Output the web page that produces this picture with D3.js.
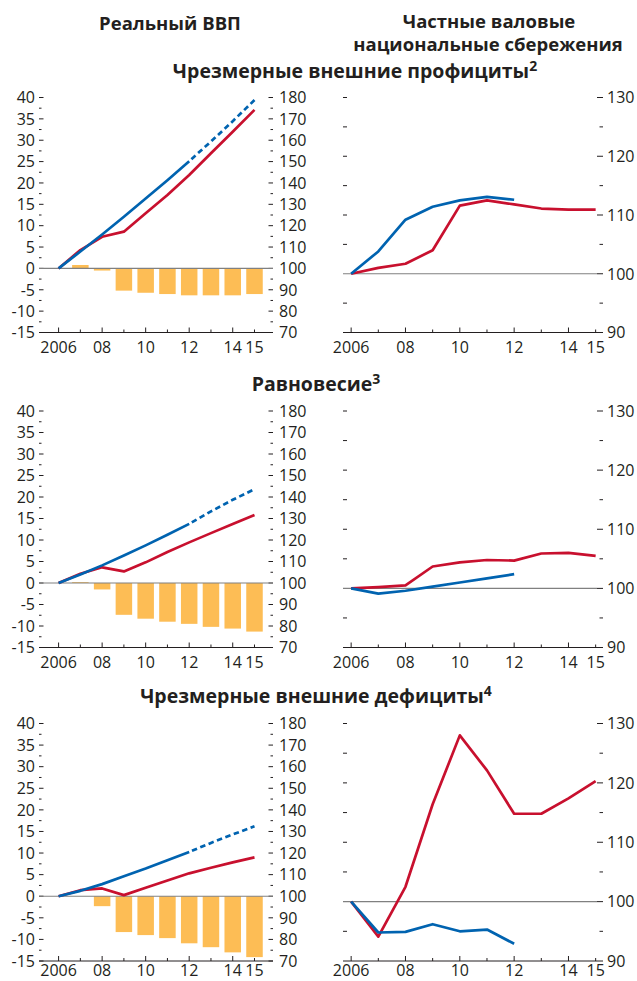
<!DOCTYPE html>
<html>
<head>
<meta charset="utf-8">
<script src="https://cdn.jsdelivr.net/npm/d3@7"></script>
<style>
  body { margin: 0; background: #fff; }
  svg { display: block; font-family: 'Open Sans', 'Noto Sans', sans-serif; }
</style>
</head>
<body>
<svg id="chart" width="637" height="981"></svg>
<script>
// --- data ---
const years = [2006, 2007, 2008, 2009, 2010, 2011, 2012, 2013, 2014, 2015];
const yearLabels = { 2006: '2006', 2008: '08', 2010: '10', 2012: '12', 2014: '14', 2015: '15' };
const forecastFrom = 2012;

// Real GDP: bars = percent (left axis), lines = index 2006 = 100 (right axis)
const surplusBars = [0, 0.8, -0.5, -5.2, -5.7, -6.0, -6.3, -6.3, -6.3, -6.0];
const surplusRedGdp = [100, 108.6, 114.8, 117.2, 125.8, 134.4, 143.7, 153.9, 164.0, 174.2];
const surplusBlueGdp = [100, 107.9, 115.9, 124.2, 132.7, 141.3, 150.2, 159.4, 168.9, 178.8];

const balanceBars = [0, 0.2, -1.5, -7.4, -8.3, -9.0, -9.5, -10.2, -10.6, -11.3];
const balanceRedGdp = [100, 104.3, 107.3, 105.4, 109.6, 114.4, 118.9, 123.2, 127.4, 131.6];
const balanceBlueGdp = [100, 103.9, 108.2, 112.8, 117.5, 122.4, 127.5, 133.3, 138.7, 143.6];

const deficitBars = [0, 0, -2.3, -8.3, -9.0, -9.7, -10.9, -11.8, -13.0, -14.1];
const deficitRedGdp = [100, 102.8, 103.6, 100.5, 103.9, 107.3, 110.6, 113.2, 115.7, 118.0];
const deficitBlueGdp = [100, 102.5, 105.6, 109.3, 112.8, 116.7, 120.5, 124.7, 128.6, 132.4];

// Private gross national savings, index 2006 = 100
const surplusRedSav = [100, 101.0, 101.7, 104.0, 111.6, 112.5, 111.8, 111.1, 110.9, 110.9];
const surplusBlueSav = [100, 103.8, 109.2, 111.4, 112.5, 113.1, 112.6];
const balanceRedSav = [100, 100.2, 100.5, 103.7, 104.4, 104.8, 104.7, 105.9, 106.0, 105.5];
const balanceBlueSav = [100, 99.1, 99.6, 100.3, 101.0, 101.7, 102.4];
const deficitRedSav = [100, 94.1, 102.5, 116.4, 128.0, 122.1, 114.8, 114.8, 117.4, 120.3];
const deficitBlueSav = [100, 94.8, 94.9, 96.2, 95.0, 95.3, 92.9];

const rows = [
  { title: 'Чрезмерные внешние профициты', note: '2', titleX: 355, titleY: 78, top: 97.5, bottom: 332.5,
    bars: surplusBars, redGdp: surplusRedGdp, blueGdp: surplusBlueGdp, redSav: surplusRedSav, blueSav: surplusBlueSav },
  { title: 'Равновесие', note: '3', titleX: 316, titleY: 391, top: 411, bottom: 647.5,
    bars: balanceBars, redGdp: balanceRedGdp, blueGdp: balanceBlueGdp, redSav: balanceRedSav, blueSav: balanceBlueSav },
  { title: 'Чрезмерные внешние дефициты', note: '4', titleX: 316, titleY: 703, top: 723.5, bottom: 961,
    bars: deficitBars, redGdp: deficitRedGdp, blueGdp: deficitBlueGdp, redSav: deficitRedSav, blueSav: deficitBlueSav }
];

const RED = '#c8102e', BLUE = '#0063b0', BAR = '#fdbd55', INK = '#231f20', GREY = '#808080';

const svg = d3.select('#chart');

// column headers
const header = (x, y, s) => svg.append('text').attr('x', x).attr('y', y).attr('text-anchor', 'middle')
  .style('font-weight', 700).style('font-size', '18.5px').attr('fill', INK).text(s);
header(170, 30, 'Реальный ВВП');
header(489, 28, 'Частные валовые');
header(488, 51, 'национальные сбережения');

function xTicks(g, x, y) {
  g.append('line').attr('x1', x.range()[0]).attr('x2', x.range()[1]).attr('y1', y).attr('y2', y)
    .attr('stroke', INK).attr('stroke-width', 1);
  g.selectAll('.xt').data(years).enter().append('line')
    .attr('x1', d => x(d)).attr('x2', d => x(d))
    .attr('y1', y).attr('y2', d => y - (d % 2 === 0 ? 5 : 3))
    .attr('stroke', INK).attr('stroke-width', 1);
  g.selectAll('.xl').data(years.filter(d => yearLabels[d])).enter().append('text')
    .attr('x', d => x(d)).attr('y', Math.min(y + 20, 976)).attr('text-anchor', 'middle')
    .style('font-size', '16px').attr('fill', INK).text(d => yearLabels[d]);
}

rows.forEach(r => {
  // section title
  const t = svg.append('text').attr('x', r.titleX).attr('y', r.titleY).attr('text-anchor', 'middle')
    .style('font-weight', 700).style('font-size', '19.5px').attr('fill', INK);
  t.append('tspan').text(r.title);
  t.append('tspan').attr('dy', -7).style('font-size', '14px').text(r.note);

  // ---------- left panel: real GDP ----------
  const gL = svg.append('g');
  const x = d3.scaleLinear().domain([2005.1, 2015.85]).range([39, 273]);
  const yPct = d3.scaleLinear().domain([-15, 40]).range([r.bottom, r.top]);
  const yIdx = d3.scaleLinear().domain([70, 180]).range([r.bottom, r.top]);

  // left ticks
  const pctTicks = d3.range(-15, 40.01, 2.5);
  gL.selectAll('.lt').data(pctTicks).enter().append('line')
    .attr('x1', 39).attr('x2', d => 39 + (d % 5 === 0 ? 4.5 : 2.5))
    .attr('y1', d => yPct(d)).attr('y2', d => yPct(d)).attr('stroke', INK).attr('stroke-width', 1);
  gL.selectAll('.ll').data(pctTicks.filter(d => d % 5 === 0)).enter().append('text')
    .attr('x', 35).attr('y', d => yPct(d)).attr('dy', '0.36em').attr('text-anchor', 'end')
    .style('font-size', '16px').attr('fill', INK).text(d => d);
  // right ticks
  const idxTicks = d3.range(70, 180.01, 5);
  gL.selectAll('.rt').data(idxTicks).enter().append('line')
    .attr('x1', d => 273 - (d % 10 === 0 ? 4.5 : 2.5)).attr('x2', 273)
    .attr('y1', d => yIdx(d)).attr('y2', d => yIdx(d)).attr('stroke', INK).attr('stroke-width', 1);
  gL.selectAll('.rl').data(idxTicks.filter(d => d % 10 === 0)).enter().append('text')
    .attr('x', 279).attr('y', d => yIdx(d)).attr('dy', '0.36em')
    .style('font-size', '16px').attr('fill', INK).text(d => d);

  // bars
  const bw = 16.5;
  gL.selectAll('.bar').data(years.map((yr, i) => ({ yr, v: r.bars[i] })).filter(d => d.v !== 0)).enter().append('rect')
    .attr('x', d => x(d.yr) - bw / 2).attr('width', bw)
    .attr('y', d => yPct(Math.max(0, d.v))).attr('height', d => Math.abs(yPct(d.v) - yPct(0)))
    .attr('fill', BAR);
  gL.append('line').attr('x1', 39).attr('x2', 273).attr('y1', yPct(0)).attr('y2', yPct(0))
    .attr('stroke', GREY).attr('stroke-width', 1.2);
  xTicks(gL, x, r.bottom);

  const line = d3.line().x(d => x(d.yr)).y(d => yIdx(d.v));
  const red = years.map((yr, i) => ({ yr, v: r.redGdp[i] }));
  const blue = years.map((yr, i) => ({ yr, v: r.blueGdp[i] }));
  gL.append('path').datum(red).attr('d', line).attr('fill', 'none')
    .attr('stroke', RED).attr('stroke-width', 2.7).attr('stroke-linejoin', 'round');
  gL.append('path').datum(blue.filter(d => d.yr <= forecastFrom)).attr('d', line).attr('fill', 'none')
    .attr('stroke', BLUE).attr('stroke-width', 2.7).attr('stroke-linejoin', 'round');
  gL.append('path').datum(blue.filter(d => d.yr >= forecastFrom)).attr('d', line).attr('fill', 'none')
    .attr('stroke', BLUE).attr('stroke-width', 2.7).attr('stroke-dasharray', '5.5,3.5').attr('stroke-dashoffset', -3);

  // ---------- right panel: private savings ----------
  const gR = svg.append('g');
  const x2 = d3.scaleLinear().domain([2005.7, 2015.05]).range([343, 597]);
  const yS = d3.scaleLinear().domain([90, 130]).range([r.bottom, r.top]);
  const sTicks = d3.range(90, 130.01, 5);
  gR.selectAll('.lt').data(sTicks.filter(d => d !== 90 && d !== 100)).enter().append('line')
    .attr('x1', 343).attr('x2', 347).attr('y1', d => yS(d)).attr('y2', d => yS(d))
    .attr('stroke', INK).attr('stroke-width', 1);
  gR.selectAll('.rt').data(sTicks).enter().append('line')
    .attr('x1', d => d % 10 === 0 ? 597 : 599.5).attr('x2', 603)
    .attr('y1', d => yS(d)).attr('y2', d => yS(d)).attr('stroke', INK).attr('stroke-width', 1);
  gR.selectAll('.rl').data(sTicks.filter(d => d % 10 === 0)).enter().append('text')
    .attr('x', 607).attr('y', d => yS(d)).attr('dy', '0.36em')
    .style('font-size', '16px').attr('fill', INK).text(d => d);
  gR.append('line').attr('x1', 343).attr('x2', 597).attr('y1', yS(100)).attr('y2', yS(100))
    .attr('stroke', GREY).attr('stroke-width', 1.2);
  xTicks(gR, x2, r.bottom);

  const line2 = d3.line().x(d => x2(d.yr)).y(d => yS(d.v));
  gR.append('path').datum(years.map((yr, i) => ({ yr, v: r.redSav[i] })))
    .attr('d', line2).attr('fill', 'none').attr('stroke', RED).attr('stroke-width', 2.7).attr('stroke-linejoin', 'round');
  gR.append('path').datum(r.blueSav.map((v, i) => ({ yr: years[i], v })))
    .attr('d', line2).attr('fill', 'none').attr('stroke', BLUE).attr('stroke-width', 2.7).attr('stroke-linejoin', 'round');
});
</script>
</body>
</html>
